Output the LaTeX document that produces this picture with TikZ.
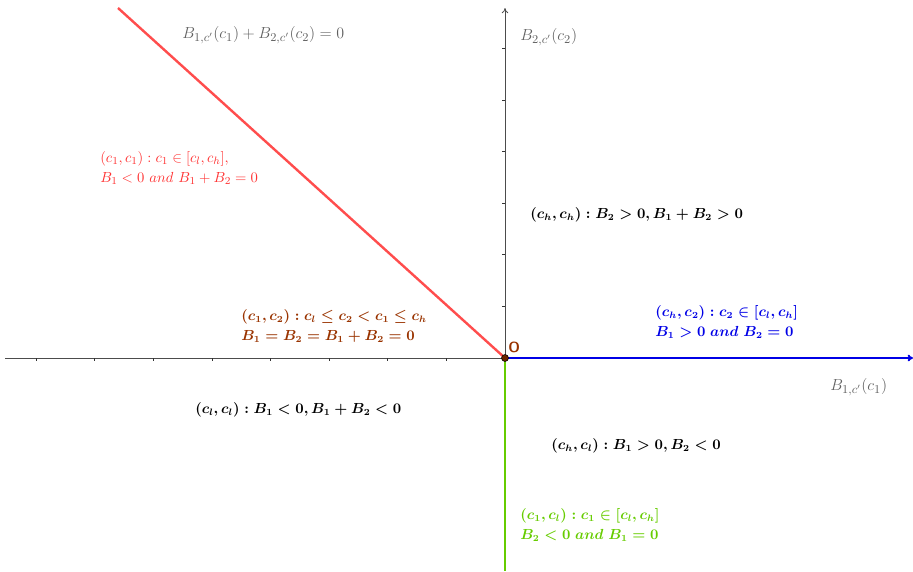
\documentclass[tikz,border=0pt]{standalone}
\usepackage{amsmath}
\usetikzlibrary{arrows.meta}
\definecolor{axisgray}{RGB}{96,96,96}
\definecolor{linered}{RGB}{255,77,77}
\definecolor{textred}{RGB}{255,50,50}
\definecolor{regbrown}{RGB}{153,51,0}
\definecolor{regblue}{RGB}{0,0,230}
\definecolor{reggreen}{RGB}{102,204,0}
\tikzset{
  axis/.style={line width=0.6pt,black!70},
  tick/.style={line width=0.5pt,black!80},
  txt/.style={anchor=west,inner sep=0pt,align=left},
  bold/.style={txt,font=\fontsize{10.6}{15}\selectfont\boldmath},
  graylab/.style={axisgray,txt,font=\fontsize{12.3}{14}\selectfont},
}
\begin{document}
\begin{tikzpicture}[x=0.75pt,y=-0.75pt,>={To[length=4pt,width=5pt]}]
  \useasboundingbox (0,0) rectangle (913,571);
  \coordinate (O) at (505,358);
  \coordinate (xl) at (5,358);
  \coordinate (xr) at (913,358);
  \coordinate (yt) at (505,8);
  \coordinate (yb) at (505,571);
  \coordinate (rt) at (118,8);
  % axes
  \draw[axis] (xl)--(O);
  \draw[axis,->] (O)--(yt);
  \foreach \i in {1,...,8} \draw[tick] (505-58.6*\i,358)--++(0,3);
  \foreach \j in {1,...,6} \draw[tick] (505,358-51.6*\j)--++(-3,0);
  % boundary lines
  \draw[linered,line width=1.8pt] (O)--(rt);
  \draw[regblue,line width=1.4pt,->] (O)--(xr);
  \draw[reggreen,line width=1.4pt] (O)--(yb);
  \fill[regbrown!70!black,draw=black,line width=0.4pt] (O) circle (3.5);
  \node[regbrown,txt,font=\fontsize{11}{13}\selectfont\sffamily\bfseries] (olab) at (508,347) {O};
  % axis labels
  \node[graylab] (eqlab) at (182,35) {$B_{1,c'}(c_1)+B_{2,c'}(c_2)=0$};
  \node[graylab] (ylab) at (520,37) {$B_{2,c'}(c_2)$};
  \node[graylab] (xlab) at (830,387) {$B_{1,c'}(c_1)$};
  % regions
  \node[textred,txt,font=\fontsize{11.4}{15}\selectfont] (redlab) at (100,168) {$(c_1,c_1): c_1\in[c_l,c_h],$\\$B_1<0~and~B_1+B_2=0$};
  \node[bold] (hh) at (530,215) {$(c_h,c_h): B_2>0, B_1+B_2>0$};
  \node[regbrown,bold] (brownlab) at (241,326) {$(c_1,c_2): c_l\le c_2<c_1\le c_h$\\$B_1=B_2=B_1+B_2=0$};
  \node[regblue,bold] (bluelab) at (655,322) {$(c_h,c_2): c_2\in[c_l,c_h]$\\$B_1>0~and~B_2=0$};
  \node[bold] (ll) at (195,410) {$(c_l,c_l): B_1<0, B_1+B_2<0$};
  \node[bold] (hl) at (551,446) {$(c_h,c_l): B_1>0, B_2<0$};
  \node[reggreen,bold] (greenlab) at (520,525) {$(c_1,c_l): c_1\in[c_l,c_h]$\\$B_2<0~and~B_1=0$};
\end{tikzpicture}
\end{document}
